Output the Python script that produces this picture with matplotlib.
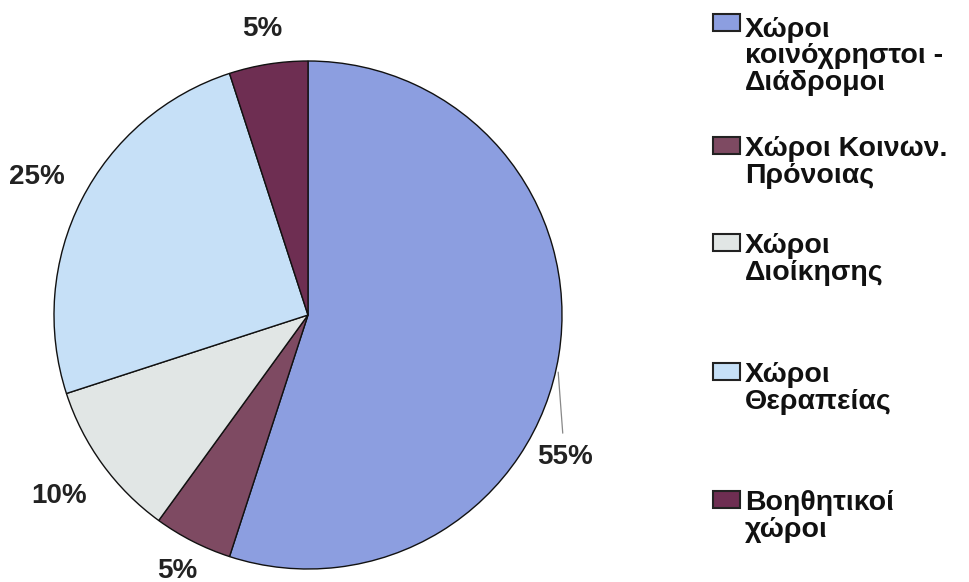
import numpy as np
import matplotlib.pyplot as plt
from matplotlib.patches import Rectangle

plt.rcParams['font.family'] = ['Liberation Sans', 'DejaVu Sans']

# space categories, listed clockwise from 12 o'clock
categories = ['Χώροι\nκοινόχρηστοι -\nΔιάδρομοι',
              'Χώροι Κοινων.\nΠρόνοιας',
              'Χώροι\nΔιοίκησης',
              'Χώροι\nΘεραπείας',
              'Βοηθητικοί\nχώροι']
shares = [55, 5, 10, 25, 5]
colors = ['#8c9ee0', '#7e4a62', '#e1e6e5', '#c6e0f7', '#6e2e52']

# how far out each percentage label sits (in pie radii)
label_dist = [None, 1.13, 1.21, 1.2, 1.14]
# legend rows: cap top of first line, baseline of last line (px from top)
legend_tops = [13, 136, 233, 362, 490]
legend_bottoms = [90, 183, 280, 409, 537]

W, H = 969, 582
fig = plt.figure(figsize=(W / 100, H / 100), dpi=100)
cx, cy, r = 308, 315, 254
ax = fig.add_axes([(cx - r) / W, (H - cy - r) / H, 2 * r / W, 2 * r / H])

wedges, _ = ax.pie(shares, colors=colors, startangle=90, counterclock=False,
                   wedgeprops=dict(edgecolor='#111111', linewidth=1.0))
ax.set_xlim(-1, 1)
ax.set_ylim(-1, 1)
ax.set_aspect('equal')
ax.axis('off')

txt = dict(fontsize=20, fontweight='bold', color='#222222',
           ha='center', va='center')
for w, val, d in zip(wedges, shares, label_dist):
    mid = np.deg2rad((w.theta1 + w.theta2) / 2)
    if d is None:
        # big slice: label pulled down with a leader line
        ax.annotate(f'{val}%', xy=(0.985, -0.225),
                    xytext=(1.01, -0.56), textcoords='data',
                    arrowprops=dict(arrowstyle='-', color='#888888', lw=0.9,
                                    shrinkA=6, shrinkB=0),
                    **txt)
    else:
        ax.text(np.cos(mid) * d, np.sin(mid) * d, f'{val}%', **txt)

# legend on the right, one entry per slice
for w, lab, yt, yb in zip(wedges, categories, legend_tops, legend_bottoms):
    fig.patches.append(Rectangle((713 / W, 1 - (yt + 18) / H), 27 / W, 17 / H,
                                 transform=fig.transFigure,
                                 facecolor=w.get_facecolor(),
                                 edgecolor='#222222', linewidth=1.5))
    fig.text(745 / W, 1 - yb / H, lab, fontsize=20.5, fontweight='bold',
             color='#111111', ha='left', va='baseline', linespacing=1.03)

fig.savefig('out.png', dpi=100)
